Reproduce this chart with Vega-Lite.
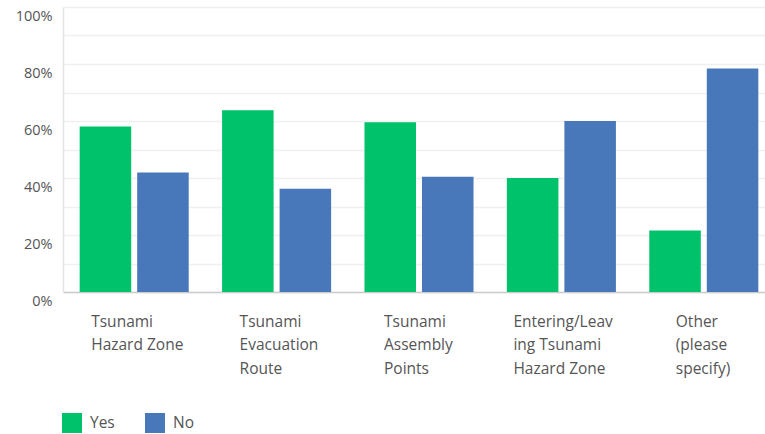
{
  "$schema": "https://vega.github.io/schema/vega-lite/v6.json",
  "width": 712,
  "height": 285,
  "autosize": "none",
  "padding": {"left": 63, "top": 7, "right": 0, "bottom": 142},
  "background": "white",
  "config": {
    "view": {"stroke": null},
    "font": "Open Sans"
  },
  "data": {
    "values": [
      {"item": "Tsunami Hazard Zone", "answer": "Yes", "pct": 0.581},
      {"item": "Tsunami Hazard Zone", "answer": "No", "pct": 0.419},
      {"item": "Tsunami Evacuation Route", "answer": "Yes", "pct": 0.638},
      {"item": "Tsunami Evacuation Route", "answer": "No", "pct": 0.362},
      {"item": "Tsunami Assembly Points", "answer": "Yes", "pct": 0.596},
      {"item": "Tsunami Assembly Points", "answer": "No", "pct": 0.404},
      {"item": "Entering/Leaving Tsunami Hazard Zone", "answer": "Yes", "pct": 0.4},
      {"item": "Entering/Leaving Tsunami Hazard Zone", "answer": "No", "pct": 0.6},
      {"item": "Other (please specify)", "answer": "Yes", "pct": 0.216},
      {"item": "Other (please specify)", "answer": "No", "pct": 0.784}
    ]
  },
  "mark": {"type": "bar"},
  "encoding": {
    "x": {
      "field": "item",
      "type": "nominal",
      "sort": null,
      "title": null,
      "scale": {"paddingInner": 0, "paddingOuter": 0},
      "axis": {
        "labelAngle": 0,
        "labelAlign": "left",
        "labelBaseline": "middle",
        "labelOffset": {
          "condition": [
            {"test": "datum.value == 'Tsunami Hazard Zone'", "value": -43},
            {"test": "datum.value == 'Tsunami Evacuation Route'", "value": -37},
            {"test": "datum.value == 'Tsunami Assembly Points'", "value": -35},
            {"test": "datum.value == 'Entering/Leaving Tsunami Hazard Zone'", "value": -48}
          ],
          "value": -28
        },
        "labelPadding": 29,
        "labelLineHeight": 23.5,
        "labelFontSize": 15.5,
        "labelColor": "#555555",
        "labelExpr": "datum.value == 'Tsunami Hazard Zone' ? ['Tsunami', 'Hazard Zone'] : datum.value == 'Tsunami Evacuation Route' ? ['Tsunami', 'Evacuation', 'Route'] : datum.value == 'Tsunami Assembly Points' ? ['Tsunami', 'Assembly', 'Points'] : datum.value == 'Entering/Leaving Tsunami Hazard Zone' ? ['Entering/Leav', 'ing Tsunami', 'Hazard Zone'] : ['Other', '(please', 'specify)']",
        "ticks": false,
        "domainColor": "#cccccc",
        "domainWidth": 1.5,
        "grid": false
      }
    },
    "xOffset": {
      "field": "answer",
      "sort": ["Yes", "No"],
      "scale": {"paddingInner": 0.104, "paddingOuter": 0.29}
    },
    "y": {
      "field": "pct",
      "type": "quantitative",
      "title": null,
      "scale": {"domain": [0, 1], "nice": false},
      "axis": {
        "values": [0, 0.1, 0.2, 0.3, 0.4, 0.5, 0.6, 0.7, 0.8, 0.9, 1],
        "labelExpr": "round(datum.value * 10) % 2 == 0 ? format(datum.value, '.0%') : ''",
        "labelOffset": 9,
        "labelPadding": 11,
        "labelFontSize": 14.5,
        "labelColor": "#555555",
        "ticks": false,
        "domainColor": "#e4e4e4",
        "domainWidth": 1.5,
        "gridColor": "#f0f0f0",
        "gridWidth": 1.5
      }
    },
    "color": {
      "field": "answer",
      "type": "nominal",
      "sort": ["Yes", "No"],
      "scale": {"domain": ["Yes", "No"], "range": ["#00c26b", "#4878b9"]},
      "legend": {
        "title": null,
        "orient": "none",
        "direction": "horizontal",
        "legendX": -1,
        "legendY": 406,
        "symbolType": "square",
        "symbolSize": 400,
        "symbolStrokeWidth": 0,
        "symbolOpacity": 1,
        "labelFontSize": 15.5,
        "labelColor": "#555555",
        "labelOffset": 8,
        "columnPadding": 30
      }
    }
  }
}
